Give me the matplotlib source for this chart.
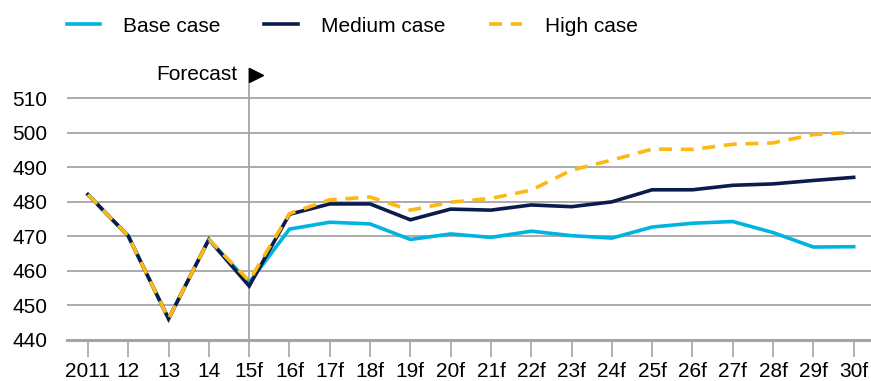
import matplotlib.pyplot as plt
from matplotlib.transforms import offset_copy

plt.rcParams['font.family'] = ['Liberation Sans', 'DejaVu Sans']

years = [ '2011', '12', '13', '14', '15f', '16f', '17f', '18f', '19f', '20f',
          '21f', '22f', '23f', '24f', '25f', '26f', '27f', '28f', '29f', '30f' ]
base   = [ 482, 470, 446, 469, 456.5, 472, 474, 473.5, 469, 470.6,
           469.6, 471.4, 470.1, 469.4, 472.6, 473.7, 474.2, 471, 466.8, 466.9 ]
medium = [ 482, 470, 446, 469, 455.5, 476.3, 479.3, 479.3, 474.7, 477.8,
           477.5, 479, 478.5, 479.9, 483.4, 483.4, 484.7, 485.1, 486.1, 487 ]
high   = [ 482, 470, 446, 469, 457, 476.5, 480.5, 481.3, 477.5, 479.8,
           480.9, 483.3, 489.1, 492, 495.2, 495.1, 496.6, 497, 499.4, 500.1 ]
yticks = [ 440, 450, 460, 470, 480, 490, 500, 510 ]
forecast_start = 4   # index of '15f'

grey = '#a5a5a5'
fs = 15

fig = plt.figure( figsize = ( 8.71, 3.81 ), dpi = 100 )
ax = fig.add_axes( [ 67/871, 41.5/381, 804/871, 271.5/381 ] )

x = list( range( len( years ) ) )
ax.plot( x, base,   color = '#00b4e1', lw = 2.6, label = 'Base case', solid_joinstyle = 'miter' )
ax.plot( x, medium, color = '#0b1c4c', lw = 2.6, label = 'Medium case', solid_joinstyle = 'miter' )
ax.plot( x, high,   color = '#fdb813', lw = 2.6, ls = ( 0, ( 3.6, 2.4 ) ), label = 'High case' )

ax.set_xlim( -0.52, 19.43 )
ax.set_ylim( 440, 518.7 )
ax.set_xticks( x )
ax.set_xticklabels( years, fontsize = fs )
ax.set_yticks( yticks )
ax.set_yticklabels( [ str( v ) for v in yticks ], fontsize = fs )
ax.tick_params( axis = 'y', length = 0, pad = 14 )
ax.tick_params( axis = 'x', length = 12, width = 1.2, color = grey, pad = 4 )

for v in yticks[ 1: ]:
    ax.axhline( v, color = grey, lw = 1.3, zorder = 0 )
for s in [ 'top', 'right', 'left' ]:
    ax.spines[ s ].set_visible( False )
ax.spines[ 'bottom' ].set_color( grey )
ax.spines[ 'bottom' ].set_linewidth( 2.2 )

# forecast divider with label and arrow head
ax.axvline( forecast_start, color = grey, lw = 1.3, zorder = 0 )
ax.text( forecast_start - 0.3, 516.7, 'Forecast', fontsize = fs, ha = 'right', va = 'center' )
tri = offset_copy( ax.transData, fig = fig, x = 7, y = 0, units = 'dots' )
ax.plot( [ forecast_start ], [ 516.7 ], marker = '>', ms = 10.5, color = 'black',
         transform = tri, clip_on = False )

fig.legend( loc = 'center left', bbox_to_anchor = ( 67/871, 1 - 26/381 ), ncol = 3,
            frameon = False, fontsize = fs, handlelength = 1.6, handletextpad = 1.1,
            columnspacing = 2.1, borderpad = 0, borderaxespad = 0 )

fig.savefig( 'out.png', dpi = 100 )
